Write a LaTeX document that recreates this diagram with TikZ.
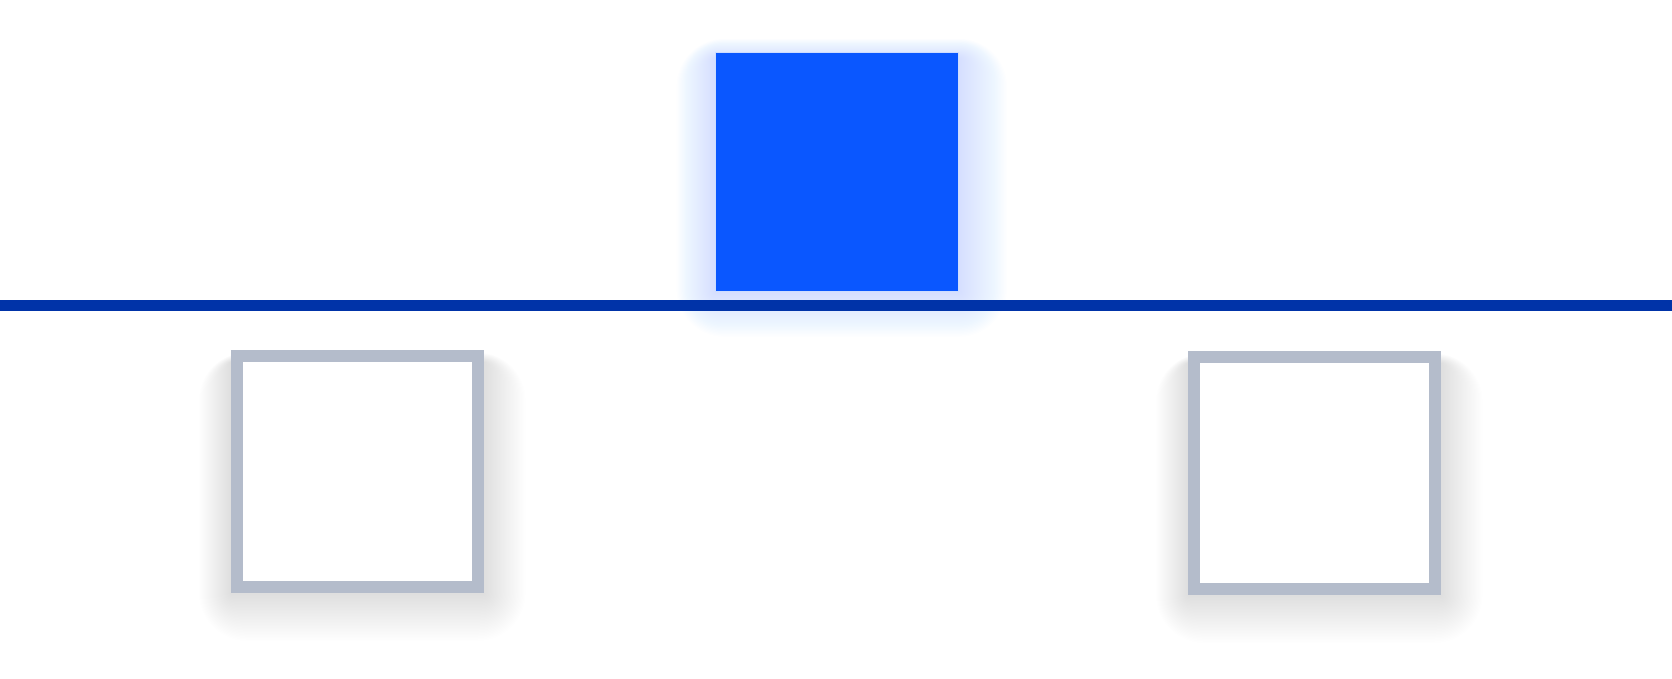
\documentclass[tikz,border=0pt]{standalone}
\usetikzlibrary{positioning}
\definecolor{activeblue}{HTML}{0A57FF}
\definecolor{lineblue}{HTML}{0033A8}
\definecolor{boxgray}{HTML}{B4BCCB}
\definecolor{glowblue}{HTML}{6F8FFF}
\definecolor{shadowgray}{HTML}{A8B0C0}
\tikzset{
  active/.style={fill=activeblue, draw=white!80!activeblue, line width=1pt, inner sep=0pt, minimum width=243pt, minimum height=239pt},
  emptybox/.style={fill=white, draw=boxgray, line width=12pt, inner sep=0pt, minimum width=241pt, minimum height=231pt},
  rail/.style={draw=lineblue, line width=11pt},
}
\begin{document}
\begin{tikzpicture}[x=1pt,y=-1pt]
\useasboundingbox (0,0) rectangle (1672,679);
\fill[white] (0,0) rectangle (1672,679);
% soft shadows
\foreach \i in {1,...,32}{
  \fill[glowblue, opacity=0.006, rounded corners=1.5*\i pt] (715-1.2*\i,52-0.6*\i+6) rectangle (959+1.5*\i,292+1.4*\i);
  \fill[shadowgray, opacity=0.005, rounded corners=1.5*\i pt] (231-1.0*\i,350-0.3*\i+12) rectangle (484+1.3*\i,593+1.5*\i);
  \fill[shadowgray, opacity=0.005, rounded corners=1.5*\i pt] (1188-1.0*\i,351-0.3*\i+12) rectangle (1441+1.3*\i,595+1.5*\i);
}
\coordinate (railL) at (0,305.5);
\coordinate (railR) at (1672,305.5);
\draw[rail] (railL) -- (railR);
\node[active] (top) at (837,172) {};
\node[emptybox] (left) at (357.5,471.5) {};
\node[emptybox, minimum height=232pt] (right) at (1314.5,473) {};
\end{tikzpicture}
\end{document}
